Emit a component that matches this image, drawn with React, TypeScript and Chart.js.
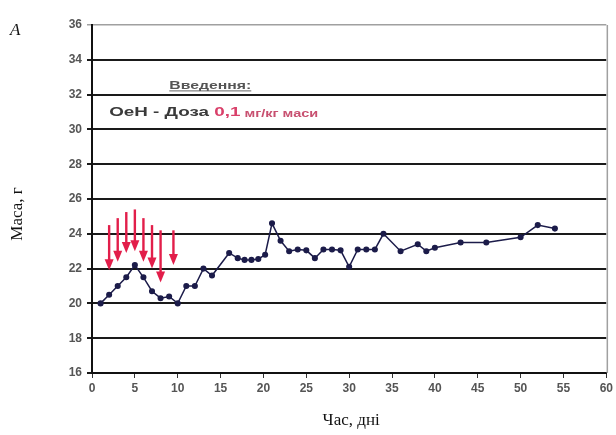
import React, { useEffect, useRef } from "react";
import { Chart, registerables } from "chart.js";

Chart.register(...registerables);

// Body mass over time (days)
const days = [1, 2, 3, 4, 5, 6, 7, 8, 9, 10, 11, 12, 13, 14, 16, 17, 17.8, 18.6, 19.4, 20.2, 21, 22, 23, 24, 25, 26, 27, 28, 29, 30, 31, 32, 33, 34, 36, 38, 39, 40, 43, 46, 50, 52, 54];
const mass = [20.0, 20.5, 21.0, 21.5, 22.2, 21.5, 20.7, 20.3, 20.4, 20.0, 21.0, 21.0, 22.0, 21.6, 22.9, 22.6, 22.5, 22.5, 22.55, 22.8, 24.6, 23.6, 23.0, 23.1, 23.05, 22.6, 23.1, 23.1, 23.05, 22.1, 23.1, 23.1, 23.1, 24.0, 23.0, 23.4, 23.0, 23.2, 23.5, 23.5, 23.8, 24.5, 24.3];

// Injection arrows (day, from value, to value)
const arrowDays = [2, 3, 4, 5, 6, 7, 8, 9.5];
const arrowFrom = [24.5, 24.9, 25.25, 25.4, 24.9, 24.5, 24.2, 24.2];
const arrowTo = [21.9, 22.4, 22.9, 23.0, 22.4, 22.0, 21.2, 22.2];

const yTicks = [16, 18, 20, 22, 24, 26, 28, 30, 32, 34, 36];
const xTicks = [0, 5, 10, 15, 20, 25, 30, 35, 40, 45, 50, 55, 60];

const legendTitle = "Введення:";
const legendPrefix = "ОеН - Доза ";
const legendDose = "0,1";
const legendUnit = " мг/кг маси";
const yTitle = "Маса, г";
const xTitle = "Час, дні";
const panelLabel = "A";

const overlayPlugin = {
  id: "overlay",
  afterDatasetsDraw(chart: any) {
    const ctx = chart.ctx;
    const xs = chart.scales.x;
    const ys = chart.scales.y;
    const area = chart.chartArea;
    ctx.save();
    // right frame line
    ctx.strokeStyle = "#a0a0a0";
    ctx.lineWidth = 1.5;
    ctx.beginPath();
    ctx.moveTo(area.right + 1, area.top);
    ctx.lineTo(area.right + 1, area.bottom);
    ctx.stroke();

    // arrows
    ctx.strokeStyle = "#e21e4a";
    ctx.fillStyle = "#e21e4a";
    ctx.lineWidth = 2.4;
    for (let i = 0; i < arrowDays.length; i++) {
      const x = xs.getPixelForValue(arrowDays[i]);
      const y1 = ys.getPixelForValue(arrowFrom[i]);
      const y2 = ys.getPixelForValue(arrowTo[i]);
      ctx.beginPath();
      ctx.moveTo(x, y1);
      ctx.lineTo(x, y2 - 8);
      ctx.stroke();
      ctx.beginPath();
      ctx.moveTo(x - 4.5, y2 - 11);
      ctx.lineTo(x + 4.5, y2 - 11);
      ctx.lineTo(x, y2);
      ctx.closePath();
      ctx.fill();
    }

    // legend title (stretched horizontally like the source)
    ctx.textBaseline = "middle";
    ctx.font = "bold 11px 'Liberation Sans', Arial, sans-serif";
    const tx = xs.getPixelForValue(13.8);
    const ty = ys.getPixelForValue(32.5);
    const tw = ctx.measureText(legendTitle).width;
    const tsx = 82 / tw;
    ctx.save();
    ctx.translate(tx - 41, ty);
    ctx.scale(tsx, 1);
    ctx.fillStyle = "#555";
    ctx.textAlign = "left";
    ctx.fillText(legendTitle, 0, 0);
    ctx.restore();
    ctx.strokeStyle = "#666";
    ctx.lineWidth = 1;
    ctx.beginPath();
    ctx.moveTo(tx - 41, ty + 5);
    ctx.lineTo(tx + 41, ty + 5);
    ctx.stroke();

    // legend line
    const lx0 = xs.getPixelForValue(2);
    const ly = ys.getPixelForValue(30.95);
    const bigFont = "bold 13px 'Liberation Sans', Arial, sans-serif";
    const smallFont = "bold 10px 'Liberation Sans', Arial, sans-serif";
    ctx.font = bigFont;
    const w1 = ctx.measureText(legendPrefix).width;
    const w2 = ctx.measureText(legendDose).width;
    ctx.font = smallFont;
    const w3 = ctx.measureText(legendUnit).width;
    const sx = 209 / (w1 + w2 + w3);
    ctx.save();
    ctx.translate(lx0, ly);
    ctx.scale(sx, 1);
    ctx.textAlign = "left";
    ctx.font = bigFont;
    ctx.fillStyle = "#3a3a3a";
    ctx.fillText(legendPrefix, 0, 0);
    ctx.fillStyle = "#d9406a";
    ctx.fillText(legendDose, w1, 0);
    ctx.font = smallFont;
    ctx.fillStyle = "#c85070";
    ctx.fillText(legendUnit, w1 + w2, 1);
    ctx.restore();

    // axis titles
    ctx.fillStyle = "#111";
    ctx.font = "17px 'Liberation Serif', 'DejaVu Serif', serif";
    ctx.textAlign = "center";
    ctx.fillText(xTitle, (area.left + area.right) / 2 + 2, 421);
    ctx.save();
    ctx.translate(18, 214);
    ctx.rotate(-Math.PI / 2);
    ctx.fillText(yTitle, 0, 0);
    ctx.restore();
    ctx.font = "italic 17px 'Liberation Serif', 'DejaVu Serif', serif";
    ctx.textAlign = "left";
    ctx.fillText(panelLabel, 10, 31);
    ctx.restore();
  },
};

export default function App() {
  const ref = useRef<HTMLCanvasElement>(null);
  useEffect(() => {
    document.body.style.margin = "0";
    const pts = days.map((d, i) => ({ x: d, y: mass[i] }));
    const tickFont = { family: "'Liberation Sans', Arial, sans-serif", size: 12, weight: "bold" as const };
    const chart = new Chart(ref.current!, {
      type: "scatter",
      data: {
        datasets: [
          {
            data: pts,
            showLine: true,
            borderColor: "#1c1c4a",
            backgroundColor: "#1c1c4a",
            borderWidth: 1.5,
            pointRadius: 2.3,
            pointStyle: "circle",
          },
        ],
      },
      options: {
        animation: false,
        responsive: true,
        maintainAspectRatio: false,
        layout: { padding: { left: 0, top: 25, right: 7, bottom: 0 } },
        plugins: { legend: { display: false }, tooltip: { enabled: false } },
        scales: {
          x: {
            type: "linear",
            min: 0,
            max: 60,
            afterFit: (s: any) => {
              s.height = 62;
            },
            afterBuildTicks: (s: any) => {
              s.ticks = xTicks.map((v) => ({ value: v }));
            },
            border: { color: "#111", width: 2 },
            grid: { drawOnChartArea: false, color: "#333", tickLength: 5, lineWidth: 1 },
            ticks: { color: "#555", font: tickFont, padding: 3, maxRotation: 0, autoSkip: false },
          },
          y: {
            type: "linear",
            min: 16,
            max: 36,
            afterFit: (s: any) => {
              s.width = 92;
            },
            afterBuildTicks: (s: any) => {
              s.ticks = yTicks.map((v) => ({ value: v }));
            },
            border: { color: "#111", width: 2 },
            grid: {
              color: (c: any) => (c.tick && c.tick.value === 36 ? "#a0a0a0" : "#1a1a1a"),
              lineWidth: (c: any) => (c.tick && c.tick.value === 36 ? 1.5 : 2),
              tickLength: 5,
            },
            ticks: { color: "#555", font: tickFont, padding: 5, autoSkip: false },
          },
        },
      },
      plugins: [overlayPlugin],
    });
    return () => chart.destroy();
  }, []);
  return (
    <div style={{ position: "absolute", left: 0, top: 0, width: 616, height: 435, background: "#fff" }}>
      <canvas ref={ref} />
    </div>
  );
}
